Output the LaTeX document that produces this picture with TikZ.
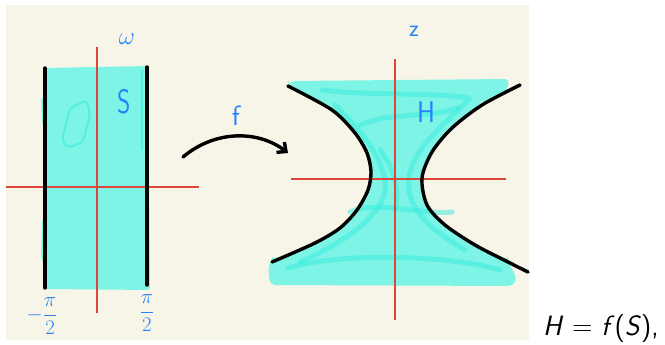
\documentclass[tikz,border=0pt]{standalone}
\usetikzlibrary{arrows.meta}
\definecolor{paper}{RGB}{247,244,232}
\definecolor{aqua}{RGB}{125,244,230}
\definecolor{aquadark}{RGB}{55,238,222}
\definecolor{axisred}{RGB}{222,70,60}
\definecolor{penblue}{RGB}{40,130,250}
\tikzset{
  axis/.style={draw=axisred,line width=1.1pt},
  pen/.style={draw=black,line width=3.4pt,line cap=round},
  lbl/.style={text=penblue,inner sep=0pt},
  scrib/.style={draw=aquadark,line width=5pt,line cap=round,line join=round,opacity=0.5},
}
\begin{document}
\begin{tikzpicture}[x=1pt,y=-1pt]
\useasboundingbox (0,0) rectangle (665,345);
\fill[paper] (6,5) rectangle (529,340);
% ---- left strip
\fill[aqua,rounded corners=3pt] (45,68) -- (148,66) -- (150,290) -- (44,289) -- cycle;
\fill[aqua,rounded corners=3pt] (41,98) -- (46,96) -- (46,126) -- (42,124) -- cycle;
\fill[aqua,rounded corners=3pt] (42,220) -- (46,214) -- (46,266) -- (41,258) -- cycle;
\draw[aquadark,line width=2.5pt,opacity=.6] (142,70) -- (142,150);
\draw[aquadark,line width=2pt,opacity=.6,rounded corners=4pt] (70,108) -- (87,100) -- (90,115) -- (83,142) -- (68,148) -- (62,140) -- cycle;
\draw[axis] (97,47) -- (97,313);
\draw[axis] (6,187) -- (199,187);
\draw[pen] (45,68) -- (45,288);
\draw[pen] (147,67) -- (147,285);
\node[lbl,font=\fontsize{28}{28}\selectfont] (w) at (127,39) {$\omega$};
\node[lbl,font=\fontsize{34}{34}\sffamily,xscale=.75] (S) at (124,102) {S};
\node[lbl,font=\fontsize{20}{20}\selectfont] (mpi) at (42,316) {$\displaystyle-\frac{\pi}{2}$};
\node[lbl,font=\fontsize{20}{20}\selectfont] (ppi) at (147,313) {$\displaystyle\frac{\pi}{2}$};
% ---- arrow
\coordinate (a1) at (183,157);
\coordinate (a2) at (288,153);
\draw[pen,-{Straight Barb[length=7pt,width=13pt]}] (a1) .. controls (215,130) and (258,130) .. (a2);
\node[lbl,font=\fontsize{28}{28}\sffamily] (f) at (236,116) {f};
% ---- right region
\fill[aqua,rounded corners=5pt] (290,81) -- (510,79) -- (505,93)
  -- plot[smooth] coordinates {(482,105) (452,128) (432,152) (422,178) (427,205) (445,225) (475,245) (508,262)}
  -- (517,278) -- (513,286) -- (270,285) -- (268,266)
  -- plot[smooth] coordinates {(272,262) (315,243) (340,228) (357,210) (368,190) (371,172) (367,153) (355,133) (332,110) (288,86)}
  -- cycle;
\draw[scrib] (322,90) .. controls (370,96) and (430,92) .. (470,98) .. controls (450,120) and (420,140) .. (410,172)
  .. controls (400,210) and (440,235) .. (465,250);
\draw[scrib] (335,105) .. controls (360,130) and (378,150) .. (385,180) .. controls (390,210) and (350,240) .. (300,262);
\draw[scrib] (360,125) .. controls (390,112) and (430,118) .. (458,108);
\draw[scrib] (288,268) .. controls (340,252) and (450,255) .. (500,270);
\draw[scrib] (350,212) .. controls (380,200) and (420,215) .. (452,212);
\draw[scrib] (380,150) .. controls (395,170) and (400,190) .. (395,210);
\draw[axis] (395,59) -- (395,320);
\draw[axis] (291,179) -- (506,179);
\draw[pen] plot[smooth] coordinates {(288,86) (332,110) (355,133) (367,153) (371,172) (368,190) (357,210) (340,228) (315,243) (272,262)};
\draw[pen] plot[smooth] coordinates {(520,85) (482,105) (452,128) (432,152) (422,178) (427,205) (445,225) (475,245) (508,262) (528,272)};
\node[lbl,font=\fontsize{24}{24}\sffamily] (z) at (414,31) {z};
\node[lbl,font=\fontsize{30}{30}\sffamily,xscale=.9] (H) at (426,112) {H};
% ---- caption
\node[anchor=base west,inner sep=0pt,font=\fontsize{28}{28}\sffamily] (cap) at (543,335)
  {\itshape H\/ \upshape= \itshape f\/\upshape(\itshape S\/\upshape),};
\end{tikzpicture}
\end{document}
